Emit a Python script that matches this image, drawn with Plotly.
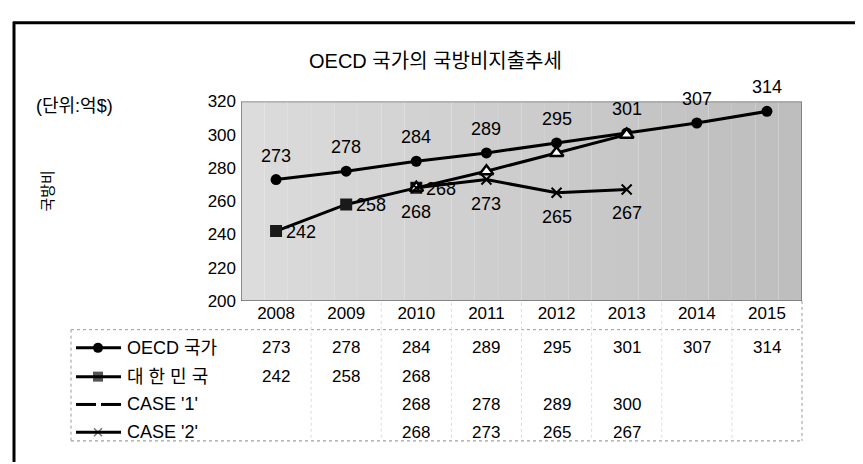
import plotly.graph_objects as go

# ---------------- data ----------------
years = [2008, 2009, 2010, 2011, 2012, 2013, 2014, 2015]
oecd = [273, 278, 284, 289, 295, 301, 307, 314]
korea = [242, 258, 268, None, None, None, None, None]
case1 = [None, None, 268, 278, 289, 300, None, None]
case2 = [None, None, 268, 273, 265, 267, None, None]
series_names = ['OECD 국가', '대 한 민 국', "CASE '1'", "CASE '2'"]
title_text = 'OECD 국가의 국방비지출추세'
unit_text = '(단위:억$)'
yaxis_title = '국방비'
y_ticks = [200, 220, 240, 260, 280, 300, 320]

# ---------------- layout constants (pixels) ----------------
W, H = 863, 464
PX0, PX1 = 233, 794
PY0, PY1 = 88, 296
FONT = 'Liberation Sans, Arial, Noto Sans CJK KR, sans-serif'
ROW_Y = [345, 375, 404, 433]
XR = [years[0] - 0.5, years[-1] + 0.5]

fig = go.Figure()

# main series
fig.add_trace(go.Scatter(x=years, y=oecd, mode='lines+markers', name=series_names[0],
                         line=dict(color='black', width=3),
                         marker=dict(symbol='circle', size=11, color='black')))
fig.add_trace(go.Scatter(x=years, y=korea, mode='lines+markers', name=series_names[1],
                         line=dict(color='black', width=3),
                         marker=dict(symbol='square', size=12, color='#1a1a1a')))
fig.add_trace(go.Scatter(x=years, y=case1, mode='lines+markers', name=series_names[2],
                         line=dict(color='black', width=3),
                         marker=dict(symbol='triangle-up', size=12, color='white',
                                     line=dict(color='black', width=2.5))))
fig.add_trace(go.Scatter(x=years, y=case2, mode='lines+markers', name=series_names[3],
                         line=dict(color='black', width=3),
                         marker=dict(symbol='x-thin-open', size=10, color='black',
                                     line=dict(color='black', width=2))))

annotations = []
# data labels
lab_font = dict(family=FONT, size=18, color='black')
for yr, v in zip(years, oecd):
    annotations.append(dict(x=yr, y=v, xref='x', yref='y', text=str(v), showarrow=False,
                            yshift=24, font=lab_font))
for yr, v in zip(years, korea):
    if v is not None:
        annotations.append(dict(x=yr, y=v, xref='x', yref='y', text=str(v), showarrow=False,
                                xanchor='left', xshift=8, yshift=-1, font=lab_font))
for yr, v in zip(years, case2):
    if v is not None:
        annotations.append(dict(x=yr, y=v, xref='x', yref='y', text=str(v), showarrow=False,
                                yshift=-24, font=lab_font))

# data table values
tab_font = dict(family=FONT, size=17, color='black')
for row_y, vals in zip(ROW_Y, [oecd, korea, case1, case2]):
    for yr, v in zip(years, vals):
        if v is not None:
            annotations.append(dict(x=yr, y=row_y, xref='x', yref='y2', text=str(v),
                                    showarrow=False, font=tab_font))
# legend keys text
for row_y, name in zip(ROW_Y, series_names):
    annotations.append(dict(x=117, y=row_y, xref='x2', yref='y2', text=name, showarrow=False,
                            xanchor='left', font=dict(family=FONT, size=18, color='black')))

# title, unit, axis title
annotations.append(dict(x=427, y=46, xref='x2', yref='y2', text=title_text, showarrow=False,
                        font=dict(family=FONT, size=20, color='black')))
annotations.append(dict(x=26, y=93, xref='x2', yref='y2', text=unit_text, showarrow=False,
                        xanchor='left', font=dict(family=FONT, size=18, color='black')))
annotations.append(dict(x=40, y=182, xref='x2', yref='y2', text=yaxis_title, showarrow=False,
                        textangle=-90, font=dict(family=FONT, size=15, color='black')))

shapes = []
# plot-area background gradient bands
N = 24
span = XR[1] - XR[0]
for i in range(N):
    t = i / (N - 1)
    g = int(220 - 30 * t)
    shapes.append(dict(type='rect', xref='x', yref='y', layer='below',
                       x0=XR[0] + span * i / N, x1=XR[0] + span * (i + 1) / N,
                       y0=y_ticks[0], y1=y_ticks[-1],
                       line=dict(width=0), fillcolor=f'rgb({g},{g},{g})'))
# plot border
shapes.append(dict(type='rect', xref='x', yref='y', x0=XR[0], x1=XR[1], y0=y_ticks[0], y1=y_ticks[-1],
                   line=dict(color='#6e6e6e', width=1.5), layer='above'))
# table grid
shapes.append(dict(type='line', xref='x2', yref='y2', x0=63, x1=PX1, y0=326, y1=326,
                   line=dict(color='#9a9a9a', width=1, dash='dot')))
shapes.append(dict(type='line', xref='x2', yref='y2', x0=63, x1=PX1, y0=442, y1=442,
                   line=dict(color='#8a8a8a', width=1, dash='dot')))
shapes.append(dict(type='line', xref='x2', yref='y2', x0=63, x1=63, y0=326, y1=442,
                   line=dict(color='#9a9a9a', width=1, dash='dot')))
shapes.append(dict(type='line', xref='x2', yref='y2', x0=PX1, x1=PX1, y0=296, y1=442,
                   line=dict(color='#9a9a9a', width=1, dash='dot')))
for yr in years[1:]:
    shapes.append(dict(type='line', xref='x', yref='y2', x0=yr - 0.5, x1=yr - 0.5, y0=298, y1=442,
                       line=dict(color='#dddddd', width=1, dash='dot')))
# legend keys
LX0, LX1, LXM = 68, 113, 90
for j, row_y in enumerate(ROW_Y):
    if j == 2:
        shapes.append(dict(type='line', xref='x2', yref='y2', x0=LX0, x1=88, y0=row_y, y1=row_y,
                           line=dict(color='black', width=3)))
        shapes.append(dict(type='line', xref='x2', yref='y2', x0=93, x1=LX1, y0=row_y, y1=row_y,
                           line=dict(color='black', width=3)))
    else:
        shapes.append(dict(type='line', xref='x2', yref='y2', x0=LX0, x1=LX1, y0=row_y, y1=row_y,
                           line=dict(color='black', width=3)))
# outer frame
shapes.append(dict(type='line', xref='x2', yref='y2', x0=5, x1=W, y0=6, y1=6,
                   line=dict(color='black', width=3)))
shapes.append(dict(type='line', xref='x2', yref='y2', x0=6, x1=6, y0=5, y1=H,
                   line=dict(color='black', width=3)))

# legend key markers (pixel overlay axes)
fig.add_trace(go.Scatter(x=[LXM], y=[ROW_Y[0]], xaxis='x2', yaxis='y2', mode='markers',
                         marker=dict(symbol='circle', size=10, color='black'), hoverinfo='skip'))
fig.add_trace(go.Scatter(x=[LXM], y=[ROW_Y[1]], xaxis='x2', yaxis='y2', mode='markers',
                         marker=dict(symbol='square', size=10, color='#555'), hoverinfo='skip'))
fig.add_trace(go.Scatter(x=[LXM], y=[ROW_Y[3]], xaxis='x2', yaxis='y2', mode='markers',
                         marker=dict(symbol='x-thin-open', size=8, color='#777',
                                     line=dict(color='#777', width=1.5)), hoverinfo='skip'))

fig.update_layout(
    width=W, height=H, margin=dict(l=0, r=0, t=0, b=0),
    paper_bgcolor='white', plot_bgcolor='rgba(0,0,0,0)',
    showlegend=False,
    font=dict(family=FONT, size=17, color='black'),
    xaxis=dict(domain=[PX0 / W, PX1 / W], range=XR, tickvals=years,
               showgrid=False, zeroline=False, showline=False, ticks='',
               tickfont=dict(family=FONT, size=17, color='black'), fixedrange=True),
    yaxis=dict(domain=[1 - PY1 / H, 1 - PY0 / H], range=[y_ticks[0], y_ticks[-1]], tickvals=y_ticks,
               showgrid=False, zeroline=False, showline=False, ticks='', ticklabelstandoff=4,
               tickfont=dict(family=FONT, size=17, color='black'), fixedrange=True),
    xaxis2=dict(domain=[0, 1], range=[0, W], visible=False, anchor='y2', fixedrange=True),
    yaxis2=dict(domain=[0, 1], range=[H, 0], visible=False, anchor='x2', fixedrange=True),
    annotations=annotations,
    shapes=shapes,
)

fig.write_html('out.html')
